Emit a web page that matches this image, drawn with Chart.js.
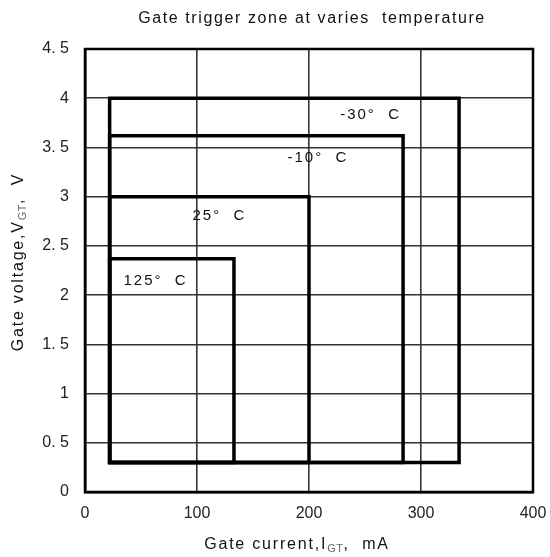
<!DOCTYPE html>
<html>
<head>
<meta charset="utf-8">
<script src="https://cdn.jsdelivr.net/npm/chart.js@4/dist/chart.umd.min.js"></script>
<style>
  html, body { margin: 0; padding: 0; background: #fff; }
  #wrap { width: 550px; height: 557px; position: relative; }
</style>
</head>
<body>
<div id="wrap"><canvas id="zona"></canvas></div>
<script>
// Zonas de disparo do gate por temperatura
const temperaturas = ['-30°  C', '-10°  C', '25°  C', '125°  C'];
const correnteMin = [22, 22, 22, 22];        // mA
const correnteMax = [334, 284, 200, 133];    // mA
const tensaoMin = [0.3, 0.3, 0.3, 0.3];      // V
const tensaoMax = [4.0, 3.62, 3.0, 2.37];    // V

// onde vai o texto de cada zona (em mA / V)
const rotuloCorrente = [255, 208, 120, 63];
const rotuloTensao = [3.84, 3.41, 2.82, 2.16];

const ticksCorrente = [0, 100, 200, 300, 400];
const ticksTensao = [0, 0.5, 1, 1.5, 2, 2.5, 3, 3.5, 4, 4.5];
const rotulosTensao = ['0', '0. 5', '1', '1. 5', '2', '2. 5', '3', '3. 5', '4', '4. 5'];

const fonte = '"Liberation Sans", Arial, sans-serif';

const datasets = temperaturas.map((t, i) => ({
  label: t,
  data: [
    { x: correnteMin[i], y: tensaoMin[i] },
    { x: correnteMax[i], y: tensaoMin[i] },
    { x: correnteMax[i], y: tensaoMax[i] },
    { x: correnteMin[i], y: tensaoMax[i] },
    { x: correnteMin[i], y: tensaoMin[i] }
  ],
  showLine: true,
  borderColor: '#000',
  borderWidth: 3.5,
  borderJoinStyle: 'miter',
  borderCapStyle: 'square',
  pointRadius: 0,
  fill: false,
  tension: 0
}));

// largura de um trecho com espaçamento extra entre letras
function largura(ctx, s, esp) {
  let w = 0;
  for (const c of s) w += ctx.measureText(c).width + esp;
  return w;
}

// escreve letra por letra (a fonte original é bem espaçada)
function escreve(ctx, s, x, y, esp) {
  for (const c of s) {
    ctx.fillText(c, x, y);
    x += ctx.measureText(c).width + esp;
  }
  return x;
}

// texto com subscrito (V_GT, I_GT), centrado em cx
function textoSub(ctx, partes, cx, base) {
  const normal = '16px ' + fonte;
  const pequeno = '11px ' + fonte;
  let total = 0;
  partes.forEach(p => {
    ctx.font = p.sub ? pequeno : normal;
    total += largura(ctx, p.t, p.sub ? 0.5 : 1.8);
  });
  let x = cx - total / 2;
  ctx.textBaseline = 'alphabetic';
  ctx.textAlign = 'left';
  partes.forEach(p => {
    ctx.font = p.sub ? pequeno : normal;
    ctx.fillStyle = p.sub ? '#666' : '#111';
    x = escreve(ctx, p.t, x, p.sub ? base + 3 : base, p.sub ? 0.5 : 1.8);
  });
}

const textos = {
  id: 'textos',
  afterDraw(chart) {
    const ctx = chart.ctx;
    const sx = chart.scales.x, sy = chart.scales.y;
    ctx.save();
    ctx.textAlign = 'left';
    ctx.textBaseline = 'alphabetic';
    ctx.fillStyle = '#111';

    // titulo
    const titulo = 'Gate trigger zone at varies  temperature';
    ctx.font = '16px ' + fonte;
    escreve(ctx, titulo, 312 - largura(ctx, titulo, 1.6) / 2, 23, 1.6);

    // nomes das zonas
    ctx.font = '15px ' + fonte;
    temperaturas.forEach((t, i) => {
      const cx = sx.getPixelForValue(rotuloCorrente[i]);
      const cy = sy.getPixelForValue(rotuloTensao[i]);
      escreve(ctx, t, cx - largura(ctx, t, 2) / 2, cy + 5.5, 2);
    });

    // titulos dos eixos
    textoSub(ctx, [{ t: 'Gate current,I' }, { t: 'GT', sub: true }, { t: ',  mA' }], 297, 549);
    ctx.translate(23, 262);
    ctx.rotate(-Math.PI / 2);
    textoSub(ctx, [{ t: 'Gate voltage,V' }, { t: 'GT', sub: true }, { t: ',  V' }], 0, 0);
    ctx.restore();
  }
};

new Chart(document.getElementById('zona'), {
  type: 'scatter',
  data: { datasets },
  options: {
    responsive: true,
    maintainAspectRatio: false,
    animation: false,
    layout: { padding: { top: 49, right: 17, left: 0, bottom: 0 } },
    plugins: { legend: { display: false }, tooltip: { enabled: false } },
    scales: {
      x: {
        type: 'linear',
        min: 0,
        max: 400,
        afterBuildTicks: s => { s.ticks = ticksCorrente.map(v => ({ value: v })); },
        afterFit: s => { s.height = 65; s.paddingLeft = 0; s.paddingRight = 0; },
        grid: { color: '#333', lineWidth: 1.6, drawTicks: false },
        border: { color: '#000', width: 2.5 },
        ticks: { padding: 12, color: '#222', font: { family: fonte, size: 16 } }
      },
      y: {
        type: 'linear',
        min: 0,
        max: 4.5,
        afterBuildTicks: s => { s.ticks = ticksTensao.map(v => ({ value: v })); },
        afterFit: s => { s.width = 85; },
        grid: { color: '#333', lineWidth: 1.6, drawTicks: false },
        border: { color: '#000', width: 2.5 },
        ticks: {
          padding: 16,
          color: '#222',
          font: { family: fonte, size: 16 },
          callback: (v) => rotulosTensao[ticksTensao.indexOf(v)]
        }
      }
    }
  },
  plugins: [textos, {
    // moldura completa do grafico
    id: 'moldura',
    beforeDatasetsDraw(chart) {
      const { ctx, chartArea: a } = chart;
      ctx.save();
      ctx.strokeStyle = '#000';
      ctx.lineWidth = 2.5;
      ctx.strokeRect(a.left, a.top, a.right - a.left, a.bottom - a.top);
      ctx.restore();
    }
  }]
});
</script>
</body>
</html>
